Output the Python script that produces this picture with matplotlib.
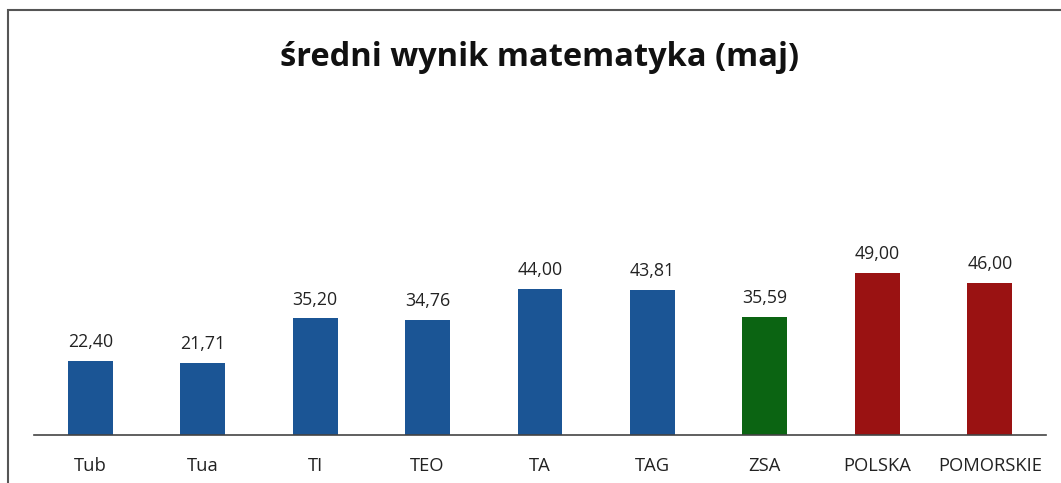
import matplotlib.pyplot as plt
from matplotlib.patches import Rectangle

categories = ['Tub', 'Tua', 'TI', 'TEO', 'TA', 'TAG', 'ZSA', 'POLSKA', 'POMORSKIE']
values = [22.40, 21.71, 35.20, 34.76, 44.00, 43.81, 35.59, 49.00, 46.00]
colors = ['#1b5595'] * 6 + ['#0b6412'] + ['#9a1212'] * 2

plt.rcParams['font.family'] = ['Open Sans', 'DejaVu Sans']

fig = plt.figure(figsize=(10.61, 4.83), dpi=100)
fig.patch.set_facecolor('white')

# scanned frame: top and left edges
fig.add_artist(Rectangle((8 / 1061, -0.1), 1.2, 1.1 - 10 / 483, transform=fig.transFigure,
                         fill=False, edgecolor='#555555', linewidth=1.5))

ax = fig.add_axes([34 / 1061, 48 / 483, 1012 / 1061, 60 * 3.31 / 483])
x = range(len(categories))
bars = ax.bar(x, values, width=0.4, color=colors)

for b, v in zip(bars, values):
    ax.text(b.get_x() + b.get_width() / 2, v + 3, '{:.2f}'.format(v).replace('.', ','),
            ha='center', va='bottom', fontsize=12.8, color='#222222', clip_on=False)

ax.set_xlim(-0.5, len(categories) - 0.5)
ax.set_ylim(0, 60)
ax.set_xticks(list(x))
ax.set_xticklabels(categories, fontsize=13.2, color='#222222')
ax.set_yticks([])
ax.tick_params(axis='x', length=0, pad=16)
for s in ['top', 'right', 'left']:
    ax.spines[s].set_visible(False)
ax.spines['bottom'].set_color('#444444')
ax.spines['bottom'].set_linewidth(1.2)

fig.text(540 / 1061, 1 - 57 / 483, 'średni wynik matematyka (maj)', ha='center', va='center',
         fontsize=23.5, fontweight='bold', color='#111111')

plt.savefig('out.png', dpi=100)
plt.close()
